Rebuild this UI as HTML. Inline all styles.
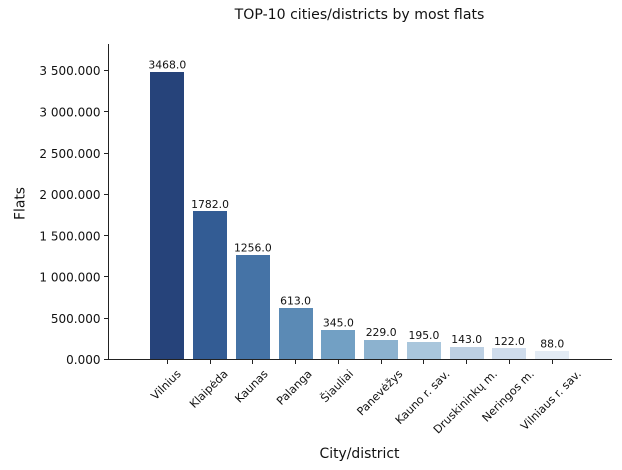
<!DOCTYPE html>
<html>
<head>
<meta charset="utf-8">
<style>
html,body{margin:0;padding:0;background:#fff;}
svg{display:block;font-family:"DejaVu Sans","Liberation Sans",sans-serif;}
text{fill:#111;}
</style>
</head>
<body>
<svg id="chart" width="622" height="470" viewBox="0 0 622 470" xmlns="http://www.w3.org/2000/svg">
  <rect x="0" y="0" width="622" height="470" fill="#fff"></rect>
  <text x="359.5" y="19" font-size="14.1" text-anchor="middle">TOP-10 cities/districts by most flats</text>
  <text x="359.5" y="458" font-size="13.9" text-anchor="middle">City/district</text>
  <text transform="translate(24.5,203.5) rotate(-90)" font-size="13.9" text-anchor="middle">Flats</text>
  <g id="marks"></g>
</svg>
<script>
const categories = ["Vilnius","Klaipėda","Kaunas","Palanga","Šiauliai","Panevėžys","Kauno r. sav.","Druskininkų m.","Neringos m.","Vilniaus r. sav."];
const flatValues = [3468,1782,1256,613,345,229,195,143,122,88];
const yTickValues = [0,500,1000,1500,2000,2500,3000,3500];
const yTickLabels = ["0.000","500.000","1 000.000","1 500.000","2 000.000","2 500.000","3 000.000","3 500.000"];
const barColors = ["#26437a","#335c94","#4573a6","#5b8ab5","#72a0c4","#8cb2cf","#a9c6dc","#bdd0e3","#cfdcec","#e3ebf4"];

const NS = "http://www.w3.org/2000/svg";
const marks = document.getElementById("marks");
const plot = {left:108, right:612, top:44, bottom:359};
const yUnit = 289 / 3500;
const xStart = 167.3, xStep = 42.77, barWidth = 34;
function xScale(i){ return xStart + i * xStep; }
function yScale(v){ return plot.bottom - v * yUnit; }
function make(tag, attrs){
  const el = document.createElementNS(NS, tag);
  for (const k in attrs) el.setAttribute(k, attrs[k]);
  marks.appendChild(el);
  return el;
}

flatValues.forEach(function(v, i){
  const barLeft = Math.round(xScale(i) - barWidth / 2);
  const barTop = Math.floor(yScale(v));
  const bar = make("rect", {x:barLeft, y:barTop, width:barWidth, height:plot.bottom-barTop, fill:barColors[i % barColors.length]});
  
  

  const label = make("text", {x:xScale(i), y:yScale(v)-4, "font-size":10.8, "text-anchor":"middle"});
  label.textContent = v.toFixed(1);
  
  

  const tickX = Math.floor(xScale(i)) + 0.5;
  const tick = make("line", {x1:tickX, x2:tickX, y1:plot.bottom, y2:plot.bottom+5, stroke:"#222", "stroke-width":1, "shape-rendering":"crispEdges"});
  
  

  const name = make("text", {"font-size":11.2, "text-anchor":"middle", "dominant-baseline":"central"});
  name.textContent = categories[i];
  
  
  const half = name.getComputedTextLength() * Math.SQRT1_2 / 2 + 4;
  name.setAttribute("transform", "translate(" + (xScale(i) - 1.2) + "," + (368 + half) + ") rotate(-45)");
});

yTickValues.forEach(function(v, i){
  const tickY = Math.round(yScale(v)) + 0.5;
  const tick = make("line", {x1:plot.left-4, x2:plot.left, y1:tickY, y2:tickY, stroke:"#222", "stroke-width":1, "shape-rendering":"crispEdges"});
  
  

  const label = make("text", {x:plot.left-7.5, y:yScale(v)+5.2, "font-size":12, "text-anchor":"end"});
  label.textContent = yTickLabels[i];
  
  
});

const yAxis = make("line", {x1:plot.left+0.5, x2:plot.left+0.5, y1:plot.top, y2:plot.bottom+1, stroke:"#222", "stroke-width":1, "shape-rendering":"crispEdges"});



const xAxis = make("line", {x1:plot.left, x2:plot.right, y1:plot.bottom+0.5, y2:plot.bottom+0.5, stroke:"#222", "stroke-width":1, "shape-rendering":"crispEdges"});


</script>
</body>
</html>
